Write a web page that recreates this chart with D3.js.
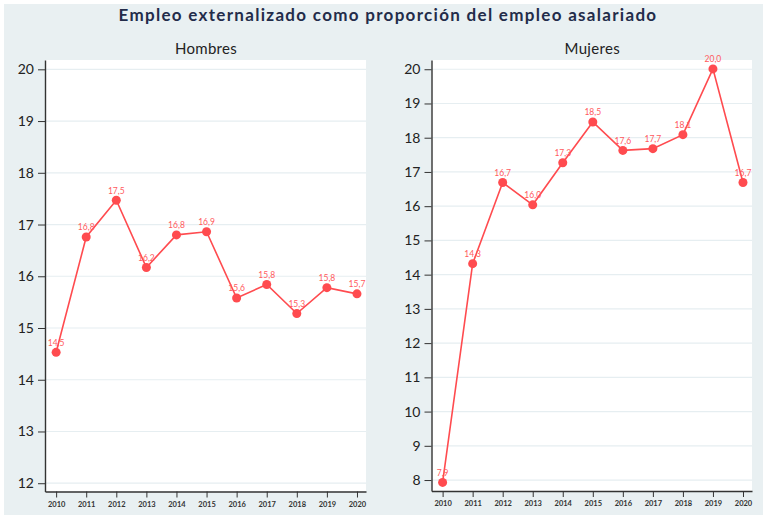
<!DOCTYPE html>
<html>
<head>
<meta charset="utf-8">
<script src="https://cdn.jsdelivr.net/npm/d3@7"></script>
<style>
  body { margin: 0; background: #fff; }
  svg { display: block; font-family: Lato, "Open Sans", sans-serif; }
</style>
</head>
<body>
<div id="chart"></div>
<script>
var years = [2010, 2011, 2012, 2013, 2014, 2015, 2016, 2017, 2018, 2019, 2020]
var hombres = [14.53, 16.76, 17.47, 16.17, 16.80, 16.86, 15.58, 15.84, 15.28, 15.78, 15.66]
var mujeres = [7.93, 14.32, 16.69, 16.04, 17.27, 18.46, 17.63, 17.68, 18.09, 20.01, 16.69]
var hombresTicks = [12, 13, 14, 15, 16, 17, 18, 19, 20]
var mujeresTicks = [8, 9, 10, 11, 12, 13, 14, 15, 16, 17, 18, 19, 20]

var W = 763, H = 516
var red = '#ff4b4f'

var svg = d3.select('#chart').append('svg').attr('width', W).attr('height', H)

svg.append('rect')
  .attr('x', 4).attr('y', 4).attr('width', W - 4).attr('height', H - 5)
  .attr('fill', '#e9f0f2')

svg.append('text')
  .attr('x', 388).attr('y', 21)
  .attr('text-anchor', 'middle')
  .attr('font-size', 17).attr('font-weight', 700)
  .attr('letter-spacing', 1.3)
  .attr('fill', '#232c4a')
  .text('Empleo externalizado como proporción del empleo asalariado')

function panel(title, values, ticks, box, yDomain){
  var g = svg.append('g')

  var x = d3.scaleLinear().domain([2009.63, 2020.3]).range([box.left, box.right])
  var y = d3.scaleLinear().domain(yDomain).range([box.bottom, box.top])

  g.append('rect')
    .attr('x', box.left).attr('y', box.top)
    .attr('width', box.right - box.left).attr('height', box.bottom - box.top)
    .attr('fill', '#fff')

  g.append('text')
    .attr('x', (box.left + box.right) / 2 + 0.5).attr('y', 54)
    .attr('text-anchor', 'middle')
    .attr('font-size', 15).attr('letter-spacing', 0.3).attr('fill', '#222')
    .text(title)

  // grid
  g.selectAll('line.grid').data(ticks).join('line')
    .attr('class', 'grid')
    .attr('x1', box.left).attr('x2', box.right)
    .attr('y1', d => y(d)).attr('y2', d => y(d))
    .attr('stroke', '#e6eef1').attr('stroke-width', 1.2)

  var yAxis = g.append('g')
    .attr('transform', 'translate(' + box.left + ',0)')
    .call(d3.axisLeft(y).tickValues(ticks).tickSize(7).tickPadding(4).tickSizeOuter(0))
  yAxis.select('.domain').attr('stroke', '#333').attr('stroke-width', 1.4)
  yAxis.selectAll('.tick line').attr('stroke', '#333')
  yAxis.selectAll('.tick text')
    .attr('font-family', 'Lato, sans-serif').attr('font-size', 14).attr('fill', '#222')

  var xAxis = g.append('g')
    .attr('transform', 'translate(0,' + box.bottom + ')')
    .call(d3.axisBottom(x).tickValues(years).tickFormat(d3.format('d')).tickSize(6).tickPadding(4).tickSizeOuter(0))
  xAxis.select('.domain').attr('stroke', '#333').attr('stroke-width', 1.4)
  xAxis.selectAll('.tick line').attr('stroke', '#333')
  xAxis.selectAll('.tick text')
    .attr('font-family', 'Lato, sans-serif').attr('font-size', 7.5).attr('font-weight', 700).attr('fill', '#333')

  var pts = years.map((yr, i) => ({year: yr, v: values[i]}))

  g.append('path')
    .attr('d', d3.line().x(d => x(d.year)).y(d => y(d.v))(pts))
    .attr('fill', 'none').attr('stroke', red).attr('stroke-width', 1.6)

  g.selectAll('circle.pt').data(pts).join('circle')
    .attr('class', 'pt')
    .attr('cx', d => x(d.year)).attr('cy', d => y(d.v)).attr('r', 4.5)
    .attr('fill', red)

  g.selectAll('text.lbl').data(pts).join('text')
    .attr('class', 'lbl')
    .attr('x', d => x(d.year)).attr('y', d => y(d.v) - 6.5)
    .attr('text-anchor', 'middle')
    .attr('font-size', 8.5).attr('fill', '#ff5a5e')
    .text(d => d3.format('.1f')(d.v).replace('.', ','))
}

panel('Hombres', hombres, hombresTicks, {left: 45, right: 366, top: 60, bottom: 491.5}, [11.84, 20.18])
panel('Mujeres', mujeres, mujeresTicks, {left: 431.5, right: 752, top: 60, bottom: 491}, [7.68, 20.27])
</script>
</body>
</html>
